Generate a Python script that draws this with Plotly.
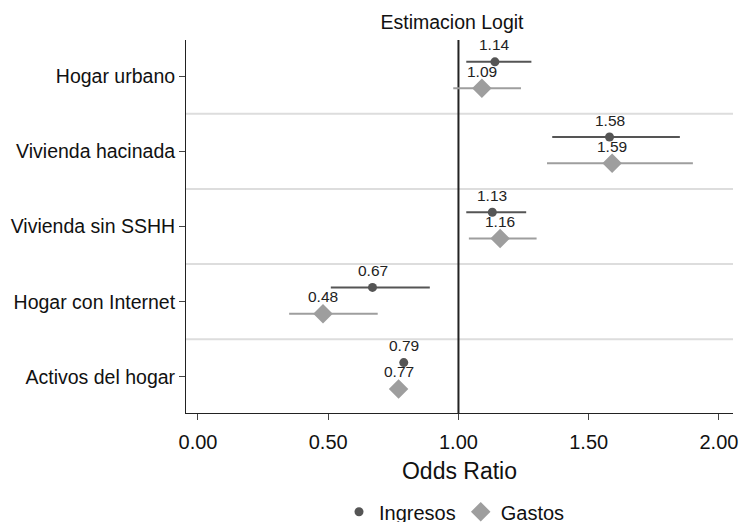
import plotly.graph_objects as go

categories = ["Hogar urbano", "Vivienda hacinada", "Vivienda sin SSHH", "Hogar con Internet", "Activos del hogar"]
ingresos_or = [1.14, 1.58, 1.13, 0.67, 0.79]
ingresos_lo = [1.03, 1.36, 1.03, 0.51, 0.78]
ingresos_hi = [1.28, 1.85, 1.26, 0.89, 0.80]
gastos_or = [1.09, 1.59, 1.16, 0.48, 0.77]
gastos_lo = [0.98, 1.34, 1.04, 0.35, 0.765]
gastos_hi = [1.24, 1.90, 1.30, 0.69, 0.775]
x_ticks = [0.0, 0.5, 1.0, 1.5, 2.0]

n = len(categories)
ypos = [n - i for i in range(n)]
y_ing = [y + 0.19 for y in ypos]
y_gas = [y - 0.16 for y in ypos]

DARK = "#555555"
LIGHT = "#9e9e9e"
FONT = "Liberation Sans, Arial, sans-serif"

W, H = 742, 522

fig = go.Figure()
fig.add_trace(go.Scatter(
    x=ingresos_or, y=y_ing, mode="markers", name="Ingresos",
    marker=dict(symbol="circle", size=9, color=DARK),
    error_x=dict(type="data", symmetric=False,
                 array=[h - v for h, v in zip(ingresos_hi, ingresos_or)],
                 arrayminus=[v - l for v, l in zip(ingresos_or, ingresos_lo)],
                 color=DARK, thickness=2, width=0),
))
fig.add_trace(go.Scatter(
    x=gastos_or, y=y_gas, mode="markers", name="Gastos",
    marker=dict(symbol="diamond", size=15, color=LIGHT),
    error_x=dict(type="data", symmetric=False,
                 array=[h - v for h, v in zip(gastos_hi, gastos_or)],
                 arrayminus=[v - l for v, l in zip(gastos_or, gastos_lo)],
                 color=LIGHT, thickness=2, width=0),
))

annotations = []
for xs, ys in ((ingresos_or, y_ing), (gastos_or, y_gas)):
    for xv, yv in zip(xs, ys):
        annotations.append(dict(x=xv, y=yv, text=f"{xv:.2f}", showarrow=False,
                                yshift=17, font=dict(size=15.5, color="#222222", family=FONT)))

shapes = []
for k in range(1, n):
    shapes.append(dict(type="line", xref="paper", x0=0, x1=1, y0=k + 0.5, y1=k + 0.5,
                       line=dict(color="#dddddd", width=2), layer="below"))
shapes.append(dict(type="line", xref="x", yref="paper", x0=1.0, x1=1.0, y0=0, y1=1,
                   line=dict(color="#222222", width=2), layer="below"))

fig.update_layout(
    width=W, height=H,
    margin=dict(l=186, r=9, t=40, b=109, autoexpand=False),
    paper_bgcolor="white", plot_bgcolor="white",
    font=dict(family=FONT, size=19.5, color="#111111"),
    title=dict(text="Estimacion Logit", xref="container", x=452 / W, xanchor="center",
               yref="container", y=1 - 22 / H, yanchor="middle",
               font=dict(size=19.5, color="#111111")),
    xaxis=dict(range=[-0.046, 2.054], tickvals=x_ticks,
               ticktext=[f"{v:.2f}" for v in x_ticks],
               showgrid=False, zeroline=False, showline=True, linecolor="#222222", linewidth=1,
               ticks="outside", ticklen=6, tickcolor="#444444", automargin=False,
               tickfont=dict(size=20), ticklabelstandoff=5,
               title=dict(text="Odds Ratio", font=dict(size=23), standoff=10)),
    yaxis=dict(range=[0.52, 5.48], tickvals=ypos, ticktext=categories,
               showgrid=False, zeroline=False, showline=True, linecolor="#222222", linewidth=1,
               ticks="outside", ticklen=6, tickcolor="#444444", automargin=False,
               tickfont=dict(size=19.5)),
    legend=dict(orientation="h", xref="container", x=454.5 / W, xanchor="center",
                yref="container", y=(H - 511.7) / H, yanchor="middle",
                font=dict(size=20), itemwidth=30),
    annotations=annotations,
    shapes=shapes,
)

fig.write_html(
    "out.html",
    config={"displayModeBar": False},
    post_script="document.body.style.margin='0';document.body.style.overflow='hidden';",
)
